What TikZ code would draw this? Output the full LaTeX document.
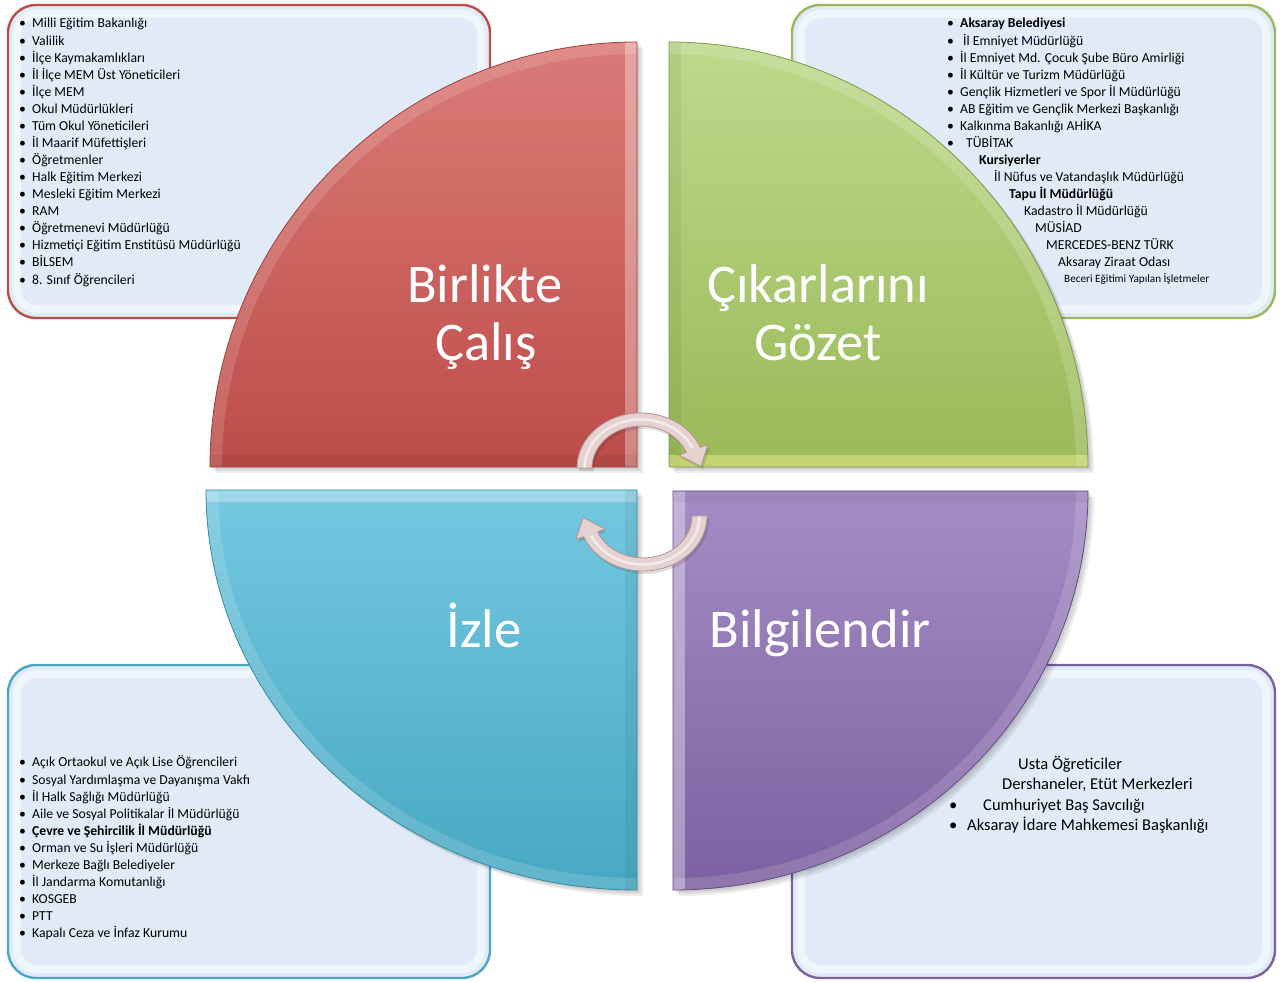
\documentclass[tikz,border=0pt]{standalone}
\usepackage{fontspec}
\setmainfont{Carlito}
\usetikzlibrary{calc}
\definecolor{redT}{HTML}{DA7B77}
\definecolor{redB}{HTML}{BD4C49}
\definecolor{redE}{HTML}{9E3E3B}
\definecolor{grnT}{HTML}{BDD98B}
\definecolor{grnB}{HTML}{9AB958}
\definecolor{grnE}{HTML}{7D9946}
\definecolor{bluT}{HTML}{74C8E0}
\definecolor{bluB}{HTML}{47A8C2}
\definecolor{bluE}{HTML}{358BA3}
\definecolor{purT}{HTML}{A48DC5}
\definecolor{purB}{HTML}{7C60A0}
\definecolor{purE}{HTML}{634C84}
\definecolor{boxfill}{HTML}{E1EBF7}
\definecolor{arrowfill}{HTML}{E6D1D1}
\definecolor{arrowedge}{HTML}{B09595}
\newcommand\QRed{(637,515) -- (210,515) arc[start angle=180,end angle=90,x radius=427,y radius=425] -- cycle}
\newcommand\QGrn{(669,515) -- (669,940) arc[start angle=90,end angle=0,x radius=419,y radius=425] -- cycle}
\newcommand\QBlu{(637,492) -- (206,492) arc[start angle=180,end angle=270,x radius=431,y radius=400] -- cycle}
\newcommand\QPur{(673,491) -- (1088,491) arc[start angle=0,end angle=-90,x radius=415,y radius=399] -- cycle}
\newcommand\ArrowUp{(577,514) arc[start angle=180,end angle=22,x radius=64,y radius=55] -- (707.8,537.3) -- (701,515.5) -- (678.9,527) -- (686.4,529.7) arc[start angle=22,end angle=180,x radius=49,y radius=42] -- cycle}
\newcommand\bul{\makebox[13pt][l]{•}}
\begin{document}
\begin{tikzpicture}[x=1pt,y=1pt,
  sidebox/.style={rounded corners=28pt, fill=boxfill, line width=2.4pt},
  glow/.style={rounded corners=20pt, draw=white, opacity=.5, line width=8pt},
  item/.style={anchor=base west, inner sep=0pt, font=\fontsize{13.7}{15}\selectfont, text=black},
  small/.style={anchor=base west, inner sep=0pt, font=\fontsize{11.2}{12}\selectfont, text=black},
  big/.style={anchor=base west, inner sep=0pt, font=\fontsize{16.5}{19}\selectfont, text=black},
  title/.style={anchor=base, inner sep=0pt, font=\fontsize{54.5}{60}\selectfont, text=white},
  shadowA/.style={black, opacity=.07},
  arrowbody/.style={fill=arrowfill, draw=arrowedge, line width=.8pt}]
\useasboundingbox (0,0) rectangle (1285,982);
\fill[white] (0,0) rectangle (1285,982);

% side boxes
\path[sidebox, draw=redB] (8,664) rectangle (490,977);
\draw[glow] (17,673) rectangle (481,968);
\path[sidebox, draw=grnB] (792,664) rectangle (1275,977);
\draw[glow] (801,673) rectangle (1266,968);
\path[sidebox, draw=bluB] (8,4) rectangle (490,317);
\draw[glow] (17,13) rectangle (481,308);
\path[sidebox, draw=purB] (792,4) rectangle (1275,317);
\draw[glow] (801,13) rectangle (1266,308);

% shadows of quadrants
\foreach \s in {(2,-2),(4,-4),(6,-6)}{
  \fill[shadowA, shift={\s}] \QRed;
  \fill[shadowA, shift={\s}] \QGrn;
  \fill[shadowA, shift={\s}] \QBlu;
  \fill[shadowA, shift={\s}] \QPur;
}

% red quadrant
\shade[top color=redT, bottom color=redB] \QRed;
\begin{scope}
  \clip \QRed;
  \draw[white, opacity=.14, line width=24pt] (210,515) arc[start angle=180,end angle=90,x radius=427,y radius=425];
  \draw[white, opacity=.32, line width=24pt] (637,515) -- (637,940);
  \draw[black, opacity=.06, line width=24pt] (210,515) -- (637,515);
\end{scope}
\draw[redE, line width=.8pt] \QRed;

% green quadrant
\shade[top color=grnT, bottom color=grnB] \QGrn;
\begin{scope}
  \clip \QGrn;
  \draw[white, opacity=.16, line width=24pt] (669,940) arc[start angle=90,end angle=0,x radius=419,y radius=425];
  \draw[black, opacity=.05, line width=24pt] (669,515) -- (669,940);
  \draw[yellow!40!white, opacity=.4, line width=24pt] (669,515) -- (1088,515);
\end{scope}
\draw[grnE, line width=.8pt] \QGrn;

% blue quadrant
\shade[top color=bluT, bottom color=bluB] \QBlu;
\begin{scope}
  \clip \QBlu;
  \draw[white, opacity=.14, line width=24pt] (206,492) arc[start angle=180,end angle=270,x radius=431,y radius=400];
  \draw[white, opacity=.3, line width=24pt] (206,492) -- (637,492);
  \draw[black, opacity=.05, line width=24pt] (637,492) -- (637,92);
\end{scope}
\draw[bluE, line width=.8pt] \QBlu;

% purple quadrant
\shade[top color=purT, bottom color=purB] \QPur;
\begin{scope}
  \clip \QPur;
  \draw[white, opacity=.14, line width=24pt] (1088,491) arc[start angle=0,end angle=-90,x radius=415,y radius=399];
  \draw[white, opacity=.35, line width=24pt] (673,491) -- (673,92);
  \draw[black, opacity=.04, line width=24pt] (673,491) -- (1088,491);
\end{scope}
\draw[purE, line width=.8pt] \QPur;

% titles
\node[title] (t1a) at (485,679) {Birlikte};
\node[title] (t1b) at (486,621) {Çalış};
\node[title] (t2a) at (818,679) {Çıkarlarını};
\node[title] (t2b) at (818,621) {Gözet};
\node[title] (t3) at (484,334) {İzle};
\node[title] (t4) at (820,334) {Bilgilendir};

% cycle arrows
\fill[black, opacity=.12, shift={(2,-3)}] \ArrowUp;
\path[arrowbody] \ArrowUp;
\draw[white, opacity=.55, line width=2.5pt] (584.5,514) arc[start angle=180,end angle=24,x radius=56.5,y radius=48.5];
\fill[black, opacity=.12, shift={(2,-3)}, rotate around={180:(642,490)}] \ArrowUp;
\path[arrowbody, rotate around={180:(642,490)}] \ArrowUp;
\draw[white, opacity=.55, line width=2.5pt, rotate around={180:(642,490)}] (584.5,514) arc[start angle=180,end angle=24,x radius=56.5,y radius=48.5];

% top-left list
\foreach \t [count=\i] in {Milli Eğitim Bakanlığı, Valilik, İlçe Kaymakamlıkları, İl İlçe MEM Üst Yöneticileri, İlçe MEM, Okul Müdürlükleri, Tüm Okul Yöneticileri, İl Maarif Müfettişleri, Öğretmenler, Halk Eğitim Merkezi, Mesleki Eğitim Merkezi, RAM, Öğretmenevi Müdürlüğü, Hizmetiçi Eğitim Enstitüsü Müdürlüğü, BİLSEM, 8. Sınıf Öğrencileri}
  \node[item] (tl\i) at (19,{954-(\i-1)*17.07}) {\bul\t};

% bottom-left list
\foreach \t [count=\i] in {Açık Ortaokul ve Açık Lise Öğrencileri, Sosyal Yardımlaşma ve Dayanışma Vakfı, İl Halk Sağlığı Müdürlüğü, Aile ve Sosyal Politikalar İl Müdürlüğü, {\textbf{Çevre ve Şehircilik İl Müdürlüğü}}, Orman ve Su İşleri Müdürlüğü, Merkeze Bağlı Belediyeler, İl Jandarma Komutanlığı, KOSGEB, PTT, Kapalı Ceza ve İnfaz Kurumu}
  \node[item] (bl\i) at (19,{215-(\i-1)*17.1}) {\bul\t};

% top-right list
\node[item] (tr1) at (947,954) {\makebox[13pt][l]{•}\textbf{Aksaray Belediyesi}};
\node[item] (tr2) at (947,936.9) {\makebox[16pt][l]{•}İl Emniyet Müdürlüğü};
\node[item] (tr3) at (947,919.9) {\bul İl Emniyet Md. Çocuk Şube Büro Amirliği};
\node[item] (tr4) at (947,902.8) {\bul İl Kültür ve Turizm Müdürlüğü};
\node[item] (tr5) at (947,885.7) {\bul Gençlik Hizmetleri ve Spor İl Müdürlüğü};
\node[item] (tr6) at (947,868.7) {\bul AB Eğitim ve Gençlik Merkezi Başkanlığı};
\node[item] (tr7) at (947,851.6) {\bul Kalkınma Bakanlığı AHİKA};
\node[item] (tr8) at (947,834.5) {\makebox[19pt][l]{•}TÜBİTAK};
\node[item] (tr9) at (979,817.4) {\textbf{Kursiyerler}};
\node[item] (tr10) at (994,800.4) {İl Nüfus ve Vatandaşlık Müdürlüğü};
\node[item] (tr11) at (1009,783.3) {\textbf{Tapu İl Müdürlüğü}};
\node[item] (tr12) at (1024,766.2) {Kadastro İl Müdürlüğü};
\node[item] (tr13) at (1035,749.2) {MÜSİAD};
\node[item] (tr14) at (1046,732.1) {MERCEDES-BENZ TÜRK};
\node[item] (tr15) at (1058,715.0) {Aksaray Ziraat Odası};
\node[small] (tr16) at (1064,699.0) {Beceri Eğitimi Yapılan İşletmeler};

% bottom-right list
\node[big] (br1) at (1018,212) {Usta Öğreticiler};
\node[big] (br2) at (1002,192) {Dershaneler, Etüt Merkezleri};
\node[big] (br3b) at (949,171.5) {•};
\node[big] (br3) at (983,171.5) {Cumhuriyet Baş Savcılığı};
\node[big] (br4b) at (949,151) {•};
\node[big] (br4) at (967,151) {Aksaray İdare Mahkemesi Başkanlığı};
\end{tikzpicture}
\end{document}
